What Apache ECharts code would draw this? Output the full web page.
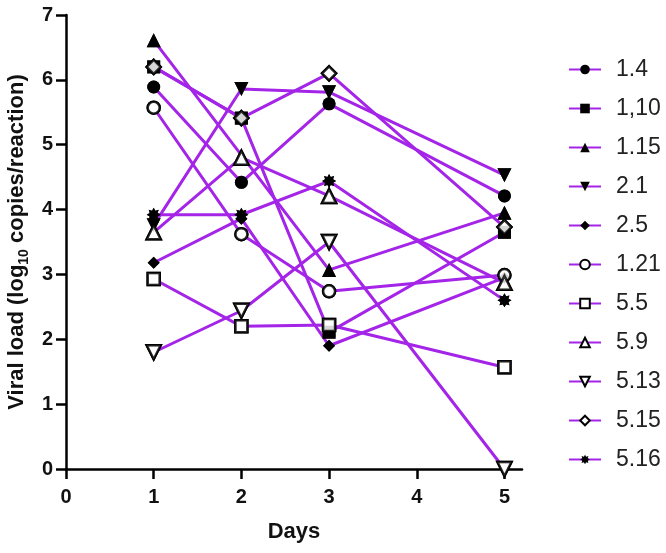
<!DOCTYPE html>
<html><head><meta charset="utf-8">
<script src="https://cdn.jsdelivr.net/npm/echarts@6/dist/echarts.min.js"></script>
<style>html,body{margin:0;padding:0;background:#fff}#c{width:666px;height:553px}</style>
</head><body><div id="c"></div>
<script>
const days = [1, 2, 3, 5];
const names = ['1.4', '1,10', '1.15', '2.1', '2.5', '1.21', '5.5', '5.9', '5.13', '5.15', '5.16'];
const v_1_4  = [5.89, 4.42, 5.63, 4.21];
const v_1_10 = [6.20, 5.41, 2.11, 3.65];
const v_1_15 = [6.61, null, 3.07, 3.95];
const v_2_1  = [3.76, 5.86, 5.81, 4.53];
const v_2_5  = [3.18, 3.86, 1.90, 2.95];
const v_1_21 = [5.57, 3.62, 2.74, 2.99];
const v_5_5  = [2.93, 2.20, 2.22, 1.57];
const v_5_9  = [3.65, 4.80, 4.21, 2.87];
const v_5_13 = [1.80, 2.44, 3.50, 0.00];
const v_5_15 = [6.20, 5.41, 6.10, 3.73];
const v_5_16 = [3.92, 3.92, 4.44, 2.60];
const values = [v_1_4, v_1_10, v_1_15, v_2_1, v_2_5, v_1_21, v_5_5, v_5_9, v_5_13, v_5_15, v_5_16];
const xTicks = [0, 1, 2, 3, 4, 5];

function burst(n, ri) {
  let d = '';
  for (let i = 0; i < 2 * n; i++) {
    const a = i * Math.PI / n - Math.PI / 2;
    const r = i % 2 ? 50 * ri : 50;
    d += (i ? 'L' : 'M') + (50 + r * Math.cos(a)).toFixed(2) + ' ' + (50 + r * Math.sin(a)).toFixed(2) + ' ';
  }
  return 'path://' + d + 'Z';
}
const FILL = {color: '#000', borderColor: '#000', borderWidth: 0};
const OPEN = {color: '#fff', borderColor: '#000', borderWidth: 2.5};
const marks = [
  {symbol: 'circle', size: 13, rot: 0, st: FILL},
  {symbol: 'rect', size: 13, rot: 0, st: FILL},
  {symbol: 'triangle', size: 14, rot: 0, st: FILL},
  {symbol: 'triangle', size: 14, rot: 180, st: FILL},
  {symbol: 'diamond', size: 12, rot: 0, st: FILL},
  {symbol: 'circle', size: 12, rot: 0, st: OPEN},
  {symbol: 'rect', size: 12, rot: 0, st: OPEN},
  {symbol: 'triangle', size: 14, rot: 0, st: OPEN},
  {symbol: 'triangle', size: 14, rot: 180, st: OPEN},
  {symbol: 'diamond', size: 14, rot: 0, st: OPEN},
  {symbol: burst(8, 0.62), size: 14, rot: 0, st: FILL}
];
const PURPLE = '#a424e8';
const series = [];
names.forEach((nm, k) => {
  const data = days.map((d, i) => [d, values[k][i]]).filter(p => p[1] !== null);
  const m = marks[k];
  series.push({
    name: nm, type: 'line', data: data, z: 2,
    symbol: m.symbol, symbolSize: m.size, symbolRotate: m.rot,
    lineStyle: {color: PURPLE, width: 3},
    itemStyle: m.st, color: PURPLE,
    emphasis: {disabled: true}, animation: false
  });
});
names.forEach((nm, k) => {
  const data = days.map((d, i) => [d, values[k][i]]).filter(p => p[1] !== null);
  const m = marks[k];
  series.push({
    name: nm, type: 'scatter', data: data, z: 5,
    symbol: m.symbol, symbolSize: m.size, symbolRotate: m.rot,
    itemStyle: m.st, emphasis: {disabled: true}, animation: false
  });
});

const FF = 'Liberation Sans, Arial, sans-serif';
const chart = echarts.init(document.getElementById('c'), null, {renderer: 'canvas'});
chart.setOption({
  backgroundColor: '#fff',
  animation: false,
  grid: {left: 66, top: 15, right: 144, bottom: 84, containLabel: false, outerBoundsMode: 'none'},
  legend: {
    orient: 'vertical', left: 563, top: 53,
    data: names.map(n => ({name: n})),
    itemWidth: 32, itemHeight: 12, itemGap: 16,
    textStyle: {fontFamily: FF, fontSize: 23, color: '#222', lineHeight: 23, padding: [0, 0, 0, 10]},
    selectedMode: false
  },
  xAxis: {
    type: 'value', min: 0, max: 5.2,
    name: 'Days', nameLocation: 'middle', nameGap: 52,
    nameTextStyle: {fontFamily: FF, fontWeight: 'bold', fontSize: 22, color: '#111'},
    axisLine: {show: true, onZero: false, lineStyle: {color: '#000', width: 2.5}},
    axisTick: {show: true, length: 10, lineStyle: {color: '#000', width: 2.5}, customValues: xTicks},
    axisLabel: {fontFamily: FF, fontWeight: 'bold', fontSize: 20, color: '#111', margin: 18, customValues: xTicks},
    splitLine: {show: false}
  },
  yAxis: {
    type: 'value', min: 0, max: 7, interval: 1,
    name: '{b|Viral load (log}{s|10}{b| copies/reaction)}', nameLocation: 'middle', nameGap: 34,
    nameTextStyle: {
      rich: {
        b: {fontFamily: FF, fontWeight: 'bold', fontSize: 22, color: '#111', lineHeight: 28, verticalAlign: 'middle'},
        s: {fontFamily: FF, fontWeight: 'bold', fontSize: 14, color: '#111', lineHeight: 28, verticalAlign: 'bottom'}
      }
    },
    axisLine: {show: true, lineStyle: {color: '#000', width: 2.5}},
    axisTick: {show: true, length: 10, lineStyle: {color: '#000', width: 2.5}},
    axisLabel: {fontFamily: FF, fontWeight: 'bold', fontSize: 20, color: '#111', margin: 13},
    splitLine: {show: false}
  },
  series: series
});
</script>
</body></html>
